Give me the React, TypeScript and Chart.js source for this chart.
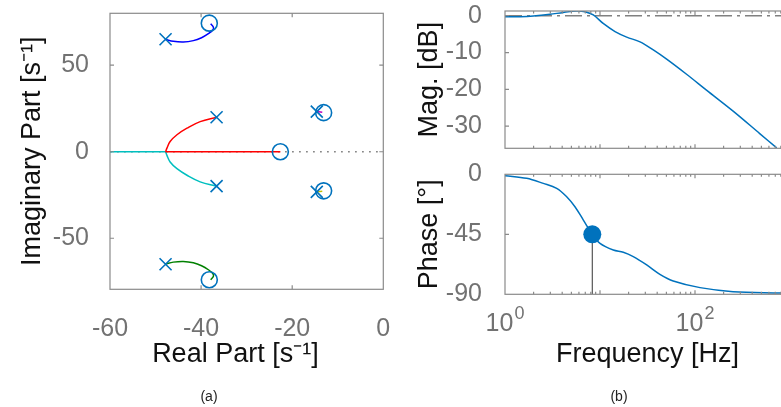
import React, { useEffect, useRef } from 'react';
import { Chart, registerables } from 'chart.js';
Chart.register(...registerables);

// ---------------- Root locus (a) ----------------
const RE_TICKS = [-60, -40, -20, 0];
const IM_TICKS = [-50, 0, 50];

const POLES_RE = [-47.8, -47.8, -36.6, -36.6, -14.6, -14.6];
const POLES_IM = [65, -65, 19.9, -19.9, 23.2, -23.2];
const ZEROS_RE = [-38.2, -38.2, -22.6, -13.1, -13.1];
const ZEROS_IM = [74.3, -74.0, 0, 22.6, -22.6];

const BLUE_RE = [-47.8, -46.1, -43.9, -41.7, -39.9, -38.4, -37.4, -37.3, -37.9];
const BLUE_IM = [64.9, 63.8, 63.4, 64.2, 65.9, 68.2, 70.5, 72.0, 74.0];
const GREEN_RE = [-47.8, -46.1, -43.9, -41.7, -39.9, -38.4, -37.4, -37.3, -37.9];
const GREEN_IM = [-64.9, -63.8, -63.4, -64.2, -65.9, -68.2, -70.5, -72.0, -74.0];
const RED_ARC_RE = [-36.6, -40.2, -43.1, -45.3, -46.8, -47.5, -47.8];
const RED_ARC_IM = [19.9, 17.4, 13.6, 9.8, 5.9, 2.1, 0];
const RED_AXIS_RE = [-47.8, -22.6];
const RED_AXIS_IM = [0, 0];
const CYAN_ARC_RE = [-36.6, -40.2, -43.1, -45.3, -46.8, -47.5, -47.8];
const CYAN_ARC_IM = [-19.9, -17.4, -13.6, -9.8, -5.9, -2.1, 0];
const CYAN_AXIS_RE = [-47.8, -60];
const CYAN_AXIS_IM = [0, 0];
const MAGENTA_RE = [-14.6, -13.4];
const MAGENTA_IM = [23.2, 22.8];
const YELLOW_RE = [-14.6, -13.4];
const YELLOW_IM = [-23.2, -22.8];
const REAL_AXIS_RE = [-60, 0];
const REAL_AXIS_IM = [0, 0];

// ---------------- Bode (b) ----------------
const FREQ_MAJOR = [1, 10, 100, 1000];
const FREQ_MINOR = [2, 3, 4, 5, 6, 7, 8, 9, 20, 30, 40, 50, 60, 70, 80, 90, 200, 300, 400, 500, 600, 700, 800, 900];
const FREQ_LABELS = [1, 100];
const MAG_TICKS = [-30, -20, -10, 0];
const PHASE_TICKS = [-90, -45, 0];

const MAG_F = [1, 1.44, 1.99, 2.98, 4.11, 5.68, 6.95, 8.5, 10.8, 14.4, 19.1, 26.4, 36.4, 50.3, 81.5, 132, 252, 480, 724];
const MAG_DB = [-0.27, -0.27, -0.1, 0.37, 0.9, 1.27, 1.1, 0.2, -2.1, -4.3, -5.8, -7.1, -9.3, -11.8, -15.9, -20.2, -25.9, -32, -35.9];
const REF_F = [1, 1000];
const REF_DB = [0, 0];

const PHASE_F = [1, 1.69, 2.53, 3.5, 4.46, 5.45, 6.68, 8.3, 10, 13.8, 17.6, 22.4, 31, 42.7, 59, 113, 252, 780, 1000];
const PHASE_DEG = [-1, -3, -6.8, -10.5, -16.8, -24.3, -34.3, -45, -51.8, -56.8, -58.5, -61.8, -68, -75, -80, -85, -88, -89, -89.2];
const MARK_F = [8.3];
const MARK_DEG = [-45];
const STEM_F = [8.3, 8.3];
const STEM_DEG = [-45, -90];

// ---------------- styling ----------------
const FONT = "'Liberation Sans', Arial, Helvetica, sans-serif";
const TICK_COLOR = '#727272';
const AXIS_COLOR = '#8a8a8a';
const LABEL_COLOR = '#111111';
const MARK = '#0072BD';

const pts = (xs: number[], ys: number[]) => xs.map((x, i) => ({ x, y: ys[i] }));

function zeroPad(s: any) {
  s.paddingLeft = 0;
  s.paddingRight = 0;
  s.paddingTop = 0;
  s.paddingBottom = 0;
}

function framePlugin(xMajor: number[], xMinor: number[], yMajor: number[]) {
  return {
    id: 'frame',
    afterDraw(chart: any) {
      const { ctx, chartArea: a } = chart;
      const xs = chart.scales.x;
      const ys = chart.scales.y;
      const L = a.left, R = a.right, T = a.top, B = a.bottom;
      ctx.save();
      ctx.strokeStyle = AXIS_COLOR;
      ctx.lineWidth = 1.2;
      ctx.beginPath();
      const xt = (vals: number[], len: number) => {
        vals.forEach((v) => {
          const p = xs.getPixelForValue(v);
          if (p <= L + 1 || p >= R - 1) return;
          ctx.moveTo(p, B);
          ctx.lineTo(p, B - len);
          ctx.moveTo(p, T);
          ctx.lineTo(p, T + len);
        });
      };
      xt(xMajor, 4);
      xt(xMinor, 2.5);
      yMajor.forEach((v) => {
        const p = ys.getPixelForValue(v);
        if (p <= T + 1 || p >= B - 1) return;
        ctx.moveTo(L, p);
        ctx.lineTo(L + 4, p);
        ctx.moveTo(R, p);
        ctx.lineTo(R - 4, p);
      });
      ctx.stroke();
      ctx.strokeRect(L, T, R - L, B - T);
      ctx.restore();
    },
  };
}

const logLabelPlugin = {
  id: 'logLabels',
  afterDraw(chart: any) {
    const { ctx, chartArea: a } = chart;
    const xs = chart.scales.x;
    ctx.save();
    ctx.fillStyle = TICK_COLOR;
    ctx.textBaseline = 'middle';
    ctx.textAlign = 'left';
    FREQ_LABELS.forEach((v) => {
      const base = '10';
      const exp = String(Math.round(Math.log10(v)));
      ctx.font = `25px ${FONT}`;
      const w1 = ctx.measureText(base).width;
      ctx.font = `18px ${FONT}`;
      const w2 = ctx.measureText(exp).width;
      const x0 = xs.getPixelForValue(v) - (w1 + w2 + 1) / 2;
      const y = a.bottom + 30;
      ctx.font = `25px ${FONT}`;
      ctx.fillText(base, x0, y);
      ctx.font = `18px ${FONT}`;
      ctx.fillText(exp, x0 + w1 + 1, y - 10);
    });
    ctx.restore();
  },
};

const tickFont = { family: FONT, size: 25, lineHeight: 1 };
const titleFont = { family: FONT, size: 27, lineHeight: 1 };

function lineDs(xs: number[], ys: number[], color: string, extra: any = {}) {
  return {
    data: pts(xs, ys),
    showLine: true,
    borderColor: color,
    backgroundColor: color,
    borderWidth: 1.5,
    pointRadius: 0,
    tension: 0.4,
    fill: false,
    ...extra,
  };
}

function locusConfig(): any {
  return {
    type: 'scatter',
    data: {
      datasets: [
        {
          data: pts(POLES_RE, POLES_IM),
          pointStyle: 'crossRot',
          pointRadius: 8.5,
          pointBorderWidth: 1.6,
          pointBorderColor: MARK,
          pointBackgroundColor: MARK,
          showLine: false,
          clip: false,
        },
        {
          data: pts(ZEROS_RE, ZEROS_IM),
          pointStyle: 'circle',
          pointRadius: 8,
          pointBorderWidth: 1.6,
          pointBorderColor: MARK,
          pointBackgroundColor: 'rgba(0,0,0,0)',
          showLine: false,
          clip: false,
        },
        lineDs(BLUE_RE, BLUE_IM, '#0000ff'),
        lineDs(GREEN_RE, GREEN_IM, '#008000'),
        lineDs(RED_ARC_RE, RED_ARC_IM, '#ff0000'),
        lineDs(RED_AXIS_RE, RED_AXIS_IM, '#ff0000', { tension: 0 }),
        lineDs(CYAN_ARC_RE, CYAN_ARC_IM, '#00bfbf'),
        lineDs(CYAN_AXIS_RE, CYAN_AXIS_IM, '#00bfbf', { tension: 0 }),
        lineDs(MAGENTA_RE, MAGENTA_IM, '#bf00bf', { tension: 0 }),
        lineDs(YELLOW_RE, YELLOW_IM, '#bfbf00', { tension: 0 }),
        lineDs(REAL_AXIS_RE, REAL_AXIS_IM, '#888888', { tension: 0, borderDash: [1.8, 5.2], borderWidth: 1.6 }),
      ],
    },
    options: {
      responsive: false,
      animation: false,
      events: [],
      devicePixelRatio: 1,
      layout: { autoPadding: false, padding: { left: 0, top: 13.3, right: 32.7, bottom: 39 } },
      plugins: {
        legend: { display: false },
        tooltip: { enabled: false },
        title: { display: false },
      },
      scales: {
        x: {
          type: 'linear',
          min: -60,
          max: 0,
          afterBuildTicks: (s: any) => {
            s.ticks = RE_TICKS.map((v) => ({ value: v }));
          },
          afterFit: (s: any) => {
            s.height = 78.7;
            zeroPad(s);
          },
          grid: { display: false },
          border: { display: false },
          ticks: {
            font: tickFont,
            color: TICK_COLOR,
            padding: 19,
            maxRotation: 0,
            autoSkip: false,
            callback: (v: any) => String(v),
          },
          title: { display: true, text: 'Real Part [s⁻¹]   ', font: titleFont, color: LABEL_COLOR, padding: 0 },
        },
        y: {
          type: 'linear',
          min: -79.5,
          max: 80,
          afterBuildTicks: (s: any) => {
            s.ticks = IM_TICKS.map((v) => ({ value: v }));
          },
          afterFit: (s: any) => {
            s.width = 110;
            zeroPad(s);
          },
          grid: { display: false },
          border: { display: false },
          ticks: {
            font: tickFont,
            color: TICK_COLOR,
            padding: 13,
            autoSkip: false,
            callback: (v: any) => String(v),
          },
          title: {
            display: true,
            text: 'Imaginary Part [s⁻¹]',
            font: titleFont,
            color: LABEL_COLOR,
            padding: { top: 19, bottom: 0 },
          },
        },
      },
    },
    plugins: [framePlugin(RE_TICKS, [], IM_TICKS)],
  };
}

function bodeY(min: number, max: number, ticks: number[], title: string) {
  return {
    type: 'linear',
    min,
    max,
    afterBuildTicks: (s: any) => {
      s.ticks = ticks.map((v) => ({ value: v }));
    },
    afterFit: (s: any) => {
      s.width = 115;
      zeroPad(s);
    },
    grid: { display: false },
    border: { display: false },
    ticks: { font: tickFont, color: TICK_COLOR, padding: 15, autoSkip: false, callback: (v: any) => String(v) },
    title: { display: true, text: title, font: titleFont, color: LABEL_COLOR, padding: { top: 26, bottom: 0 } },
  };
}

function magConfig(): any {
  return {
    type: 'scatter',
    data: {
      datasets: [
        lineDs(MAG_F, MAG_DB, MARK, { tension: 0.35 }),
        lineDs(REF_F, REF_DB, '#808080', { tension: 0, borderDash: [17, 5, 3, 5], borderWidth: 1.5 }),
      ],
    },
    options: {
      responsive: false,
      animation: false,
      events: [],
      devicePixelRatio: 1,
      layout: { autoPadding: false, padding: { left: 0, top: 11, right: 58, bottom: 11.7 } },
      plugins: { legend: { display: false }, tooltip: { enabled: false }, title: { display: false } },
      scales: {
        x: {
          type: 'logarithmic',
          min: 1,
          max: 1000,
          afterFit: (s: any) => {
            s.height = 0;
            zeroPad(s);
          },
          grid: { display: false },
          border: { display: false },
          ticks: { display: false },
          title: { display: false },
        },
        y: bodeY(-36, 1.28, MAG_TICKS, 'Mag. [dB]'),
      },
    },
    plugins: [framePlugin(FREQ_MAJOR, FREQ_MINOR, MAG_TICKS)],
  };
}

function phaseConfig(): any {
  return {
    type: 'scatter',
    data: {
      datasets: [
        {
          data: pts(MARK_F, MARK_DEG),
          pointRadius: 9,
          pointBorderWidth: 0,
          pointBackgroundColor: MARK,
          pointBorderColor: MARK,
          showLine: false,
          clip: false,
        },
        lineDs(STEM_F, STEM_DEG, '#555555', { tension: 0, borderWidth: 1.2 }),
        lineDs(PHASE_F, PHASE_DEG, MARK, { tension: 0.35 }),
      ],
    },
    options: {
      responsive: false,
      animation: false,
      events: [],
      devicePixelRatio: 1,
      layout: { autoPadding: false, padding: { left: 0, top: 14.3, right: 58, bottom: 39 } },
      plugins: {
        legend: { display: false },
        tooltip: { enabled: false },
        title: { display: false },
      },
      scales: {
        x: {
          type: 'logarithmic',
          min: 1,
          max: 1000,
          afterFit: (s: any) => {
            s.height = 73.7;
            zeroPad(s);
          },
          grid: { display: false },
          border: { display: false },
          ticks: { display: false },
          title: { display: true, text: 'Frequency [Hz]', font: titleFont, color: LABEL_COLOR, padding: 0 },
        },
        y: bodeY(-90, 0, PHASE_TICKS, 'Phase [°]'),
      },
    },
    plugins: [framePlugin(FREQ_MAJOR, FREQ_MINOR, PHASE_TICKS), logLabelPlugin],
  };
}

const captionStyle = (cx: number): React.CSSProperties => ({
  position: 'absolute',
  left: cx - 30,
  top: 387,
  width: 60,
  textAlign: 'center',
  fontFamily: FONT,
  fontSize: 14,
  lineHeight: '18px',
  color: '#222222',
});

export default function App() {
  const r1 = useRef<HTMLCanvasElement>(null);
  const r2 = useRef<HTMLCanvasElement>(null);
  const r3 = useRef<HTMLCanvasElement>(null);

  useEffect(() => {
    const charts = [
      new Chart(r1.current as HTMLCanvasElement, locusConfig()),
      new Chart(r2.current as HTMLCanvasElement, magConfig()),
      new Chart(r3.current as HTMLCanvasElement, phaseConfig()),
    ];
    return () => charts.forEach((c) => c.destroy());
  }, []);

  return (
    <div
      style={{
        position: 'fixed',
        left: 0,
        top: 0,
        width: 781,
        height: 407,
        overflow: 'hidden',
        background: '#ffffff',
      }}
    >
      <canvas ref={r1} width={416} height={407} style={{ position: 'absolute', left: 0, top: 0 }} />
      <canvas ref={r2} width={458} height={160} style={{ position: 'absolute', left: 390, top: 0 }} />
      <canvas ref={r3} width={458} height={247} style={{ position: 'absolute', left: 390, top: 160 }} />
      <div style={captionStyle(209)}>(a)</div>
      <div style={captionStyle(619)}>(b)</div>
    </div>
  );
}
